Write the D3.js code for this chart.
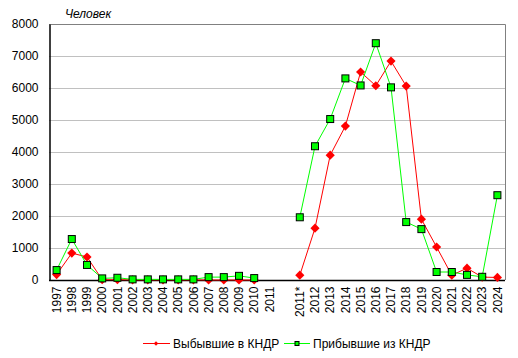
<!DOCTYPE html>
<html><head><meta charset="utf-8">
<script src="https://cdn.jsdelivr.net/npm/d3@7"></script>
<style>body{margin:0;background:#fff}text{font-family:"Liberation Sans",Arial,sans-serif}</style>
</head><body>
<script>
const categories = ["1997","1998","1999","2000","2001","2002","2003","2004","2005","2006","2007","2008","2009","2010","2011","","2011*","2012","2013","2014","2015","2016","2017","2018","2019","2020","2021","2022","2023","2024"];
const departed = [170,840,720,10,10,5,5,5,5,5,0,0,0,0,null,null,150,1620,3900,4810,6500,6070,6840,6060,1900,1030,150,370,90,80];
const arrived  = [310,1280,470,50,70,20,20,20,20,20,90,90,130,60,null,null,1960,4180,5030,6300,6080,7400,6020,1810,1590,250,250,160,100,2650];
const yTicks = [0,1000,2000,3000,4000,5000,6000,7000,8000];
const seriesNames = ["Выбывшие в КНДР","Прибывшие из КНДР"];

const W=518,H=358, L=49, R=505, T=24, B=280;
const svg=d3.select("body").append("svg").attr("width",W).attr("height",H);
const x=d3.scaleBand().domain(d3.range(categories.length)).range([L,R]);
const y=d3.scaleLinear().domain([0,8000]).range([B,T]);
const cx=i=>x(i)+x.bandwidth()/2;

// grid
svg.append("g").selectAll("line").data(yTicks.slice(1,-1)).join("line")
 .attr("x1",L).attr("x2",R).attr("y1",d=>y(d)+0.5).attr("y2",d=>y(d)+0.5)
 .attr("stroke","#c0c0c0").attr("stroke-width",1);
// frame top/right
svg.append("path").attr("d",`M${L},${T+0.5}H${R+0.5}V${B}`).attr("fill","none").attr("stroke","#808080");

// y axis
const ya=svg.append("g").attr("transform",`translate(${L+0.5},0)`)
 .call(d3.axisLeft(y).tickValues(yTicks).tickSize(0).tickPadding(11).tickFormat(d3.format("d")));
ya.select(".domain").attr("stroke","#000").attr("stroke-width",1.5);
ya.selectAll("text").attr("font-size",12).attr("fill","#000");

// x axis
const xa=svg.append("g").attr("transform",`translate(0,${B+0.5})`)
 .call(d3.axisBottom(x).tickFormat(i=>categories[i]).tickSize(0));
xa.select(".domain").attr("stroke","#000").attr("stroke-width",1.5).attr("d",`M${L},0H${R}`);
xa.selectAll("text").attr("font-size",12).attr("fill","#000")
 .attr("transform","rotate(-90)").attr("text-anchor","end").attr("dx","-4").attr("dy","0.35em").attr("y",0).attr("x",-2);

// title
svg.append("text").attr("x",65).attr("y",18).attr("font-size",12).attr("font-style","italic").text("Человек");

const line=d3.line().defined(d=>d.v!=null).x(d=>cx(d.i)).y(d=>y(d.v));
const dep=departed.map((v,i)=>({v,i})), arr=arrived.map((v,i)=>({v,i}));
const rhombus={draw(ctx,size){const r=Math.sqrt(size/2);ctx.moveTo(0,-r);ctx.lineTo(r,0);ctx.lineTo(0,r);ctx.lineTo(-r,0);ctx.closePath();}};
const diamond=d3.symbol().type(rhombus).size(42);

svg.append("path").datum(dep).attr("d",line).attr("fill","none").attr("stroke","#ff0000").attr("stroke-width",1);
svg.append("g").selectAll("path").data(dep.filter(d=>d.v!=null)).join("path")
 .attr("d",diamond).attr("transform",d=>`translate(${cx(d.i)},${y(d.v)})`).attr("fill","#ff0000");

svg.append("path").datum(arr).attr("d",line).attr("fill","none").attr("stroke","#00ff00").attr("stroke-width",1);
svg.append("g").selectAll("rect").data(arr.filter(d=>d.v!=null)).join("rect")
 .attr("x",d=>cx(d.i)-3.5).attr("y",d=>y(d.v)-3.5).attr("width",7).attr("height",7)
 .attr("fill","#00ff00").attr("stroke","#000").attr("stroke-width",1);

// legend
const lg=svg.append("g");
lg.append("line").attr("x1",143).attr("x2",170).attr("y1",343.5).attr("y2",343.5).attr("stroke","#ff0000");
lg.append("path").attr("d",d3.symbol().type(rhombus).size(10)).attr("transform","translate(156,343.5)").attr("fill","#ff0000");
lg.append("text").attr("x",173).attr("y",347.5).attr("font-size",12).text(seriesNames[0]);
lg.append("line").attr("x1",284).attr("x2",310).attr("y1",343.5).attr("y2",343.5).attr("stroke","#00ff00");
lg.append("rect").attr("x",295).attr("y",341.5).attr("width",4).attr("height",4).attr("fill","#00ff00").attr("stroke","#000");
lg.append("text").attr("x",313).attr("y",347.5).attr("font-size",12).text(seriesNames[1]);
</script>
</body></html>
